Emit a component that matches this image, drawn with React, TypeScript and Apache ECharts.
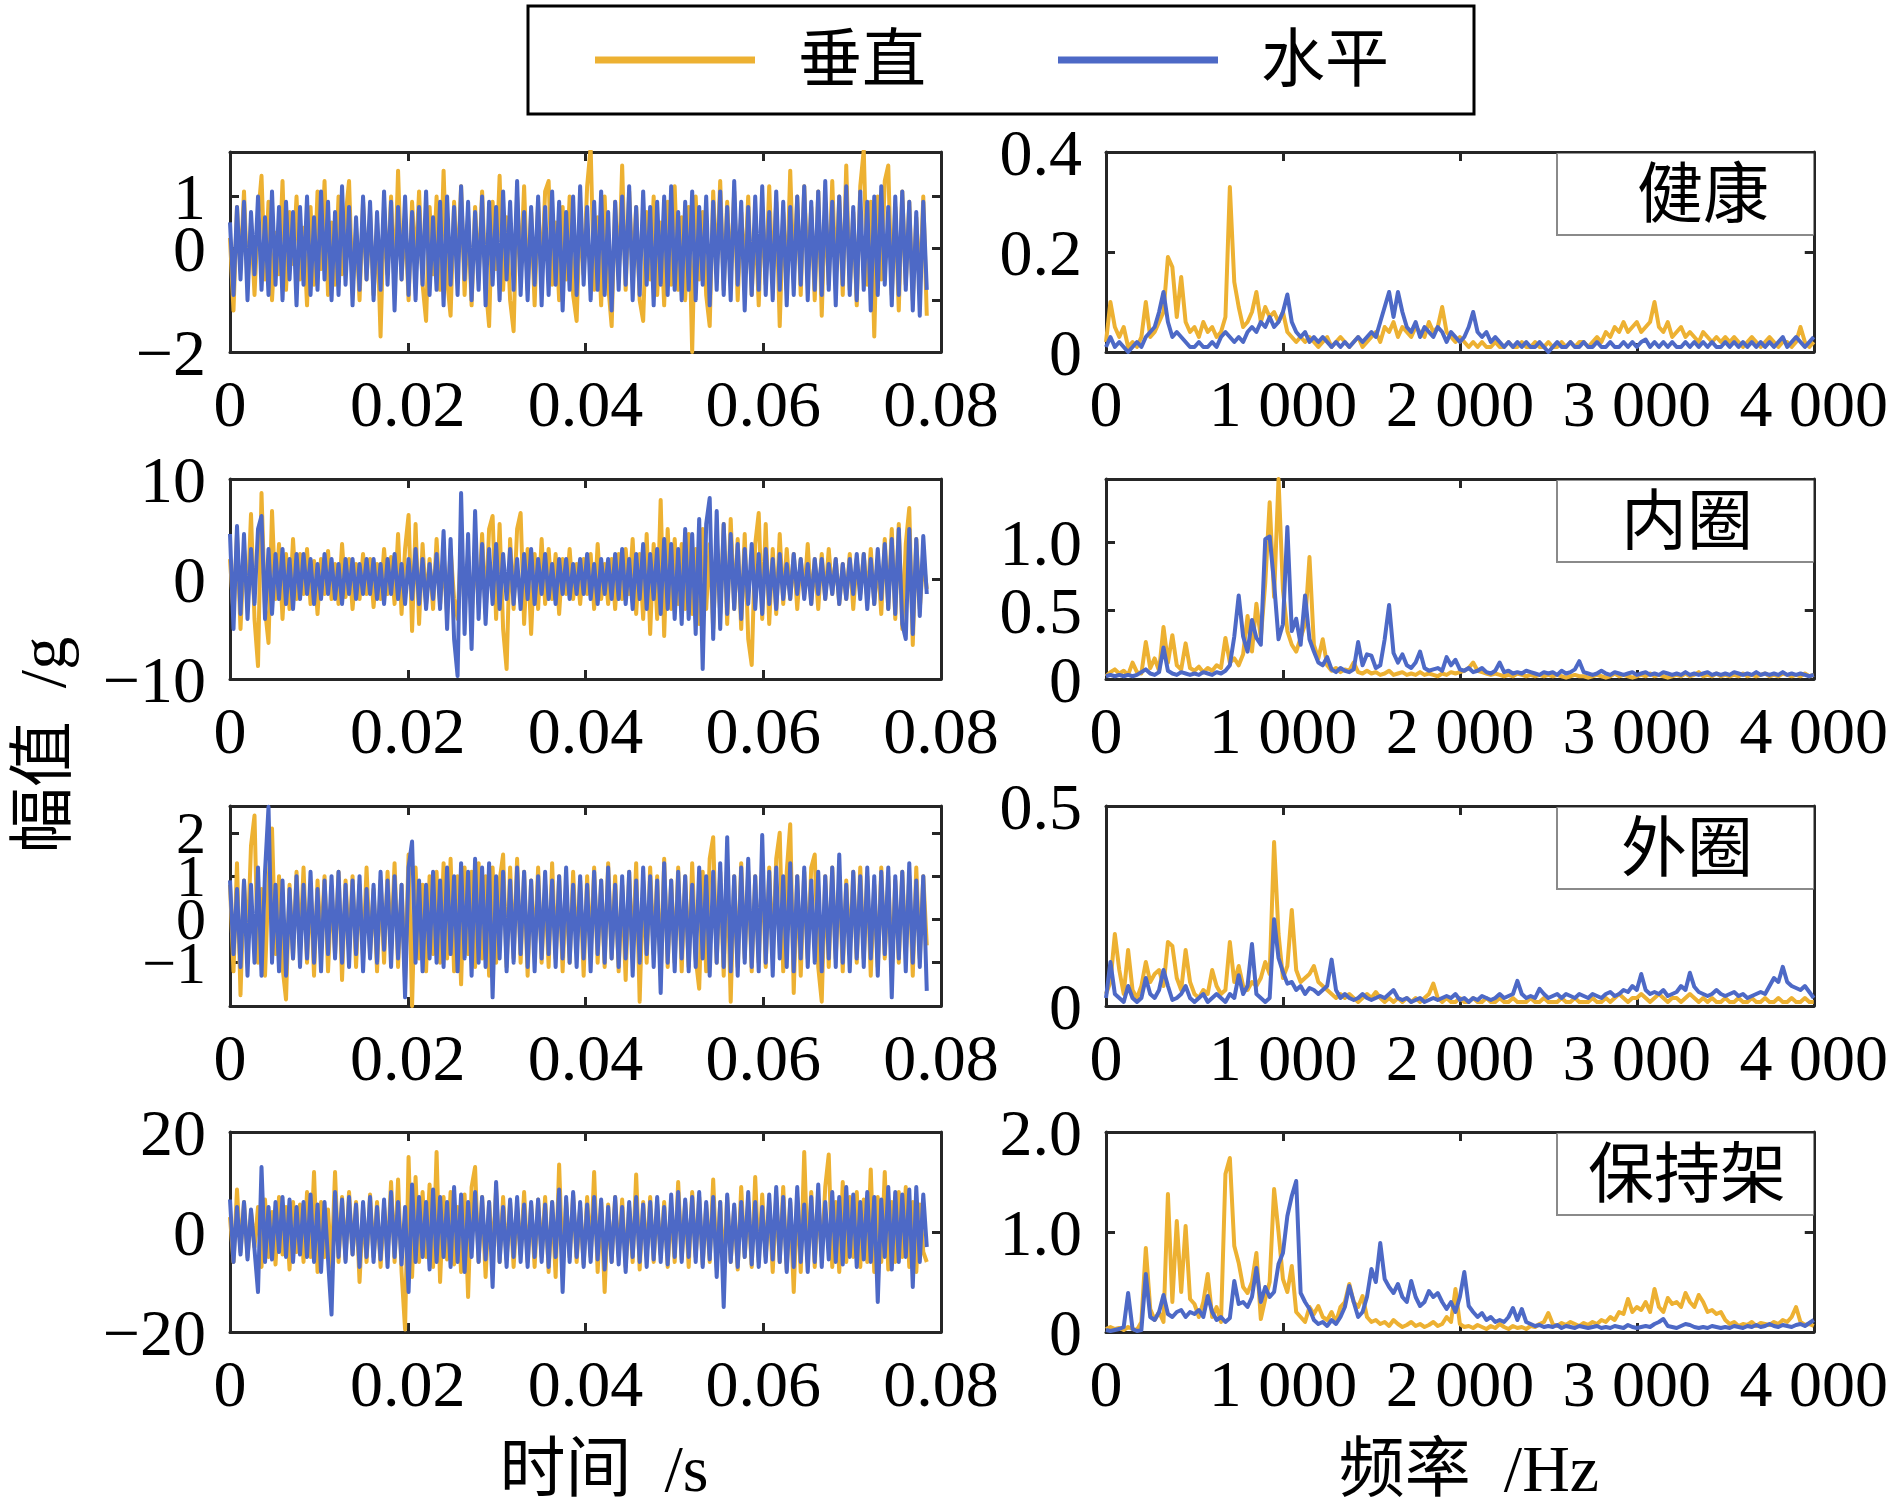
import React, { useEffect, useRef } from 'react';
import * as echarts from 'echarts';

// ---------------- data ----------------
// time-domain signals, 200 samples from 0 to 0.0784 s
const TIME_END = 0.0784;
// frequency spectra, 161 bins from 0 to 4000 Hz (25 Hz step)
const FREQ_STEP = 25;

const seriesNames = ['垂直', '水平'];
const faultLabels = ['健康', '内圈', '外圈', '保持架'];
const timeTickLabels = ['0', '0.02', '0.04', '0.06', '0.08'];
const freqTickLabels = ['0', '1 000', '2 000', '3 000', '4 000'];

// 健康
const healthyTimeV = [
  0.2, -1.2, 0.8, -0.4, 1.1, -0.7, 0.5, -0.9, 0.6, 1.4,
  -0.6, 0.9, -1.0, 0.3, -0.5, 1.3, -0.8, 0.7, -0.3, 1.0,
  -0.6, 0.4, -1.1, 0.8, -0.7, 1.1, -0.4, 1.3, -0.9, 0.5,
  -0.7, 1.0, -0.5, 0.6, 1.3, -0.8, 0.4, -1.0, 0.9, -0.6,
  0.7, -0.9, 0.5, -1.7, 0.8, -0.5, 1.0, -0.8, 1.5, -0.6,
  0.6, -1.0, 0.9, -0.4, 1.1, -0.7, -1.4, 0.8, -0.5, 1.0,
  -0.8, 1.5, -0.6, -1.3, 0.9, -0.5, 1.2, -0.9, 0.6, -1.1,
  0.8, -0.6, 1.1, -0.7, -1.5, 0.9, -0.4, 1.4, -0.8, 0.6,
  -1.0, -1.6, 1.0, -0.5, 1.2, -0.8, 0.7, -1.1, 0.9, -0.6,
  1.1, 1.3, -0.7, 0.5, -1.0, 0.8, -0.6, 1.0, -0.9, -1.4,
  0.7, -0.5, 1.2, 1.95, -0.8, 0.6, -1.1, 1.0, -0.7, -1.5,
  0.9, -0.6, 1.6, -0.8, 1.1, -0.5, 0.8, -1.0, -1.4, 0.7,
  -0.6, 1.0, -0.9, 0.5, -1.1, 0.9, -0.7, 1.2, -0.8, 0.6,
  -1.0, 0.8, -2.0, 1.0, -0.6, 0.7, -0.9, -1.5, 1.1, -0.5,
  1.3, -0.8, 0.9, -0.6, 1.1, -1.0, 0.7, -0.5, 1.0, -0.9,
  0.6, -1.1, 0.8, -0.7, 1.2, -0.6, 0.9, -1.5, 0.7, -0.8,
  1.5, -0.6, 1.0, -0.9, 1.2, -0.5, 0.8, -1.0, 1.1, -1.3,
  0.9, -0.7, 1.3, -0.6, 1.0, -0.9, 1.6, -0.8, 0.7, -1.1,
  1.2, 1.9, -0.7, 0.9, -1.7, 1.0, -0.6, 1.3, 1.6, -0.9,
  0.8, -1.2, 1.1, -0.7, 0.9, -1.0, 0.6, -0.8, 1.0, -1.3,
];
const healthyTimeH = [
  0.5, -0.9, 0.8, -0.6, 0.9, -1.0, 0.7, -0.5, 1.0, -0.8,
  0.6, -0.9, 1.1, -0.7, 0.8, -1.0, 0.9, -0.6, 0.7, -1.1,
  0.8, -0.7, 1.0, -0.9, 0.6, -0.8, 1.1, -0.6, 0.9, -1.0,
  0.7, -0.9, 1.2, -0.7, 0.8, -1.1, 0.6, -0.8, 1.0, -0.6,
  0.9, -1.0, 0.7, -0.8, 1.1, -0.7, 0.9, -1.2, 0.8, -0.6,
  1.0, -0.9, 0.7, -1.0, 0.8, -0.7, 1.1, -0.9, 0.6, -0.8,
  0.9, -1.1, 1.0, -0.7, 0.8, -0.9, 1.2, -0.6, 0.9, -1.0,
  0.7, -0.8, 1.0, -1.1, 0.9, -0.7, 0.8, -1.0, 1.1, -0.6,
  0.9, -0.8, 1.3, -0.9, 0.7, -1.0, 0.8, -0.7, 1.0, -1.1,
  0.8, -0.9, 1.1, -0.7, 0.9, -1.2, 0.7, -0.8, 1.0, -0.9,
  1.2, -0.7, 0.8, -1.0, 0.9, -0.8, 1.1, -0.9, 0.7, -1.2,
  0.9, -0.8, 1.0, -0.7, 1.2, -1.0, 0.8, -0.9, 1.1, -0.7,
  0.8, -1.1, 0.9, -0.7, 1.0, -0.9, 1.2, -0.8, 0.7, -1.0,
  0.9, -0.8, 1.1, -1.0, 0.8, -0.7, 1.0, -1.1, 0.9, -0.8,
  1.1, -0.9, 0.8, -1.0, 1.3, -0.7, 0.9, -1.2, 0.8, -0.9,
  1.0, -0.8, 1.2, -0.9, 0.7, -1.0, 1.1, -0.8, 0.9, -1.1,
  0.8, -0.9, 1.0, -0.7, 1.2, -1.0, 0.9, -0.8, 1.1, -0.9,
  1.3, -0.8, 0.9, -1.1, 1.0, -0.7, 1.2, -0.9, 0.8, -1.0,
  1.1, -0.8, 0.9, -1.2, 1.0, -0.9, 1.2, -0.7, 0.8, -1.1,
  1.0, -0.9, 1.1, -0.8, 0.9, -1.2, 0.7, -1.3, 0.9, -0.8,
];
const healthyFreqV = [
  0.02, 0.10, 0.05, 0.03, 0.05, 0.01, 0.02, 0.01, 0.03, 0.10,
  0.03, 0.04, 0.06, 0.08, 0.19, 0.17, 0.07, 0.15, 0.06, 0.04,
  0.05, 0.03, 0.06, 0.04, 0.05, 0.03, 0.04, 0.07, 0.33, 0.14,
  0.09, 0.05, 0.06, 0.08, 0.12, 0.06, 0.09, 0.07, 0.08, 0.06,
  0.08, 0.04, 0.03, 0.02, 0.03, 0.02, 0.03, 0.02, 0.01, 0.02,
  0.03, 0.01, 0.02, 0.03, 0.02, 0.01, 0.02, 0.03, 0.01, 0.02,
  0.03, 0.04, 0.02, 0.05, 0.04, 0.06, 0.03, 0.05, 0.04, 0.03,
  0.05, 0.04, 0.03, 0.06, 0.04, 0.05, 0.09, 0.04, 0.03, 0.02,
  0.03, 0.02, 0.01, 0.02, 0.01, 0.02, 0.01, 0.01, 0.02, 0.01,
  0.01, 0.02, 0.01, 0.01, 0.02, 0.01, 0.01, 0.02, 0.01, 0.01,
  0.02, 0.01, 0.01, 0.02, 0.01, 0.02, 0.01, 0.02, 0.02, 0.01,
  0.02, 0.03, 0.02, 0.04, 0.03, 0.05, 0.04, 0.06, 0.04, 0.05,
  0.06, 0.04, 0.05, 0.06, 0.10, 0.05, 0.04, 0.06, 0.03, 0.04,
  0.05, 0.03, 0.04, 0.03, 0.02, 0.04, 0.03, 0.02, 0.03, 0.02,
  0.03, 0.02, 0.03, 0.02, 0.01, 0.02, 0.03, 0.02, 0.01, 0.02,
  0.03, 0.02, 0.01, 0.02, 0.02, 0.01, 0.02, 0.05, 0.02, 0.01,
  0.02,
];
const healthyFreqH = [
  0.01, 0.03, 0.01, 0.02, 0.01, 0.00, 0.01, 0.02, 0.01, 0.03,
  0.04, 0.05, 0.08, 0.12, 0.06, 0.03, 0.04, 0.03, 0.02, 0.01,
  0.01, 0.02, 0.01, 0.01, 0.02, 0.01, 0.03, 0.04, 0.03, 0.02,
  0.03, 0.02, 0.04, 0.05, 0.04, 0.06, 0.05, 0.07, 0.05, 0.06,
  0.08, 0.115, 0.06, 0.04, 0.03, 0.04, 0.02, 0.03, 0.02, 0.03,
  0.02, 0.01, 0.02, 0.01, 0.02, 0.01, 0.02, 0.03, 0.02, 0.03,
  0.04, 0.03, 0.06, 0.09, 0.12, 0.07, 0.12, 0.08, 0.05, 0.04,
  0.06, 0.03, 0.05, 0.04, 0.03, 0.05, 0.04, 0.02, 0.04, 0.03,
  0.02, 0.03, 0.05, 0.08, 0.04, 0.03, 0.04, 0.02, 0.03, 0.02,
  0.01, 0.02, 0.01, 0.02, 0.01, 0.02, 0.01, 0.01, 0.02, 0.01,
  0.00, 0.01, 0.02, 0.01, 0.01, 0.02, 0.01, 0.01, 0.02, 0.01,
  0.01, 0.02, 0.01, 0.01, 0.02, 0.01, 0.01, 0.02, 0.01, 0.02,
  0.01, 0.02, 0.025, 0.01, 0.02, 0.01, 0.02, 0.01, 0.02, 0.01,
  0.01, 0.02, 0.01, 0.02, 0.01, 0.02, 0.01, 0.02, 0.01, 0.01,
  0.02, 0.01, 0.02, 0.01, 0.02, 0.01, 0.02, 0.01, 0.02, 0.01,
  0.02, 0.01, 0.02, 0.03, 0.01, 0.02, 0.03, 0.02, 0.01, 0.02,
  0.03,
];

// 内圈
const innerTimeV = [
  2.0, -3.5, 4.5, -5.0, 3.0, -2.5, 6.5, -4.0, -8.7, 8.6,
  -3.0, -6.4, 6.8, -2.0, 3.5, -4.0, 2.5, -3.0, 4.0, -2.0,
  2.5, -1.5, 3.0, -2.5, 1.8, -3.5, 2.0, -1.5, 2.8, -2.0,
  1.5, -2.5, 3.5, -1.8, 2.0, -3.0, 1.5, -2.0, 2.5, -1.5,
  2.0, -2.8, 1.5, -2.0, 3.0, -1.5, 2.2, -2.5, 4.5, -3.5,
  3.0, 6.4, -5.2, 5.5, -4.5, 3.5, -2.5, 2.0, -3.0, 4.0,
  -2.5, 2.0, -3.5, 3.0, -2.0, -4.0, 3.5, -3.0, 2.5, -4.0,
  3.0, -2.5, 4.5, -3.5, 5.0, 6.3, -4.0, 5.5, -5.0, -9.0,
  4.0, -3.0, 5.0, 6.6, -4.5, 3.0, -5.5, 2.5, -3.0, 4.0,
  -2.5, 3.0, -2.0, 2.5, -3.5, 2.0, -1.5, 3.0, -2.0, 1.5,
  -2.5, 2.0, -1.5, 2.5, -3.0, 3.5, -2.0, 1.5, -2.5, 2.0,
  -3.0, 2.5, -2.0, 3.0, -1.5, 4.0, -3.5, 2.5, -4.0, 4.5,
  -5.5, 3.5, -4.0, 7.9, -5.7, 5.0, -3.0, 4.0, -2.5, 3.5,
  -3.0, 4.5, -3.5, 3.0, -4.5, 5.0, -3.0, 3.5, -5.0, 4.0,
  -3.5, 5.5, -4.5, 6.0, -3.0, 4.0, -5.0, 4.5, -6.0, -8.6,
  3.5, 6.6, -4.0, 5.5, -4.5, 3.0, -3.5, 4.5, -2.5, 3.0,
  -2.0, 2.5, -3.0, 2.0, -1.5, 3.5, -2.5, 2.0, -3.0, 2.5,
  -2.0, 3.0, -1.5, 2.0, -2.5, 1.5, -2.0, 2.5, -3.0, 2.0,
  -1.5, 2.5, -2.0, 3.0, -2.5, 2.0, -3.5, 4.0, -3.0, 5.0,
  -4.0, 5.5, -5.0, 3.5, 7.1, -6.6, 4.0, -3.0, 2.0, -1.0,
];
const innerTimeH = [
  4.5, -5.0, 5.3, -3.5, 4.5, -4.0, 3.0, -2.5, 5.0, 6.3,
  -4.0, 3.0, -3.5, 2.5, -2.0, 3.0, -2.5, 2.0, -3.0, 2.5,
  -2.0, 2.5, -1.5, 2.0, -2.5, 1.5, -2.0, 2.5, -1.5, 2.0,
  -2.0, 1.5, -2.5, 2.0, -1.5, 2.0, -2.0, 1.5, -1.5, 2.0,
  -1.5, 2.0, -2.0, 1.5, -2.5, 2.0, -1.5, 2.5, -2.0, 1.5,
  -2.5, 2.0, -2.0, 3.0, -2.5, 2.0, -3.0, 1.5, -2.0, 2.5,
  -3.0, 4.8, -5.0, 4.0, -6.0, -9.7, 8.6, -5.5, 4.5, -7.0,
  6.8, -4.0, 3.5, -4.5, 3.0, -2.5, 3.5, -3.0, 2.5, -2.0,
  3.0, -2.5, 2.0, -3.0, 2.5, -2.0, 3.0, -2.5, 2.0, -1.5,
  2.5, -2.0, 1.5, -2.5, 2.0, -1.5, 2.0, -2.0, 1.5, -1.5,
  2.0, -1.5, 2.5, -2.0, 1.5, -2.5, 2.0, -1.5, 2.0, -2.0,
  2.5, -2.0, 3.0, -2.5, 2.0, -3.0, 2.5, -2.0, 3.5, -3.0,
  2.5, -2.0, 3.0, -3.5, 4.0, -3.0, 3.5, -4.0, 3.0, -4.5,
  5.0, -4.0, 4.5, -5.5, 6.0, -9.0, 5.5, 8.1, -6.0, 6.8,
  -5.0, 5.5, -3.5, 4.5, -3.0, 3.5, -4.0, 3.0, -2.5, 3.5,
  -3.0, 2.5, -3.5, 3.0, -2.5, 2.0, -3.0, 2.5, -2.0, 1.5,
  -2.0, 2.5, -1.5, 2.0, -2.0, 1.5, -2.5, 2.0, -1.5, 2.0,
  -2.0, 1.5, -1.5, 2.0, -2.5, 1.5, -2.0, 2.0, -1.5, 2.5,
  -2.0, 2.5, -3.0, 2.0, -2.5, 3.0, -2.0, 3.5, -3.0, 4.0,
  -3.5, 5.0, -4.5, -6.0, 5.0, -5.5, 4.0, -3.7, 4.3, -1.5,
];
const innerFreqV = [
  0.02, 0.05, 0.07, 0.04, 0.06, 0.03, 0.12, 0.05, 0.04, 0.27,
  0.08, 0.15, 0.06, 0.38, 0.12, 0.32, 0.10, 0.07, 0.26, 0.08,
  0.06, 0.09, 0.05, 0.08, 0.06, 0.10, 0.08, 0.30, 0.12, 0.15,
  0.10, 0.18, 0.46, 0.20, 0.55, 0.30, 0.70, 1.29, 0.60, 1.46,
  0.65, 0.35, 0.25, 0.20, 0.30, 0.40, 0.89, 0.25, 0.15, 0.29,
  0.10, 0.06, 0.08, 0.05, 0.07, 0.06, 0.12, 0.05, 0.04, 0.06,
  0.04, 0.05, 0.03, 0.04, 0.06, 0.03, 0.04, 0.05, 0.03, 0.04,
  0.03, 0.05, 0.03, 0.04, 0.03, 0.02, 0.04, 0.03, 0.05, 0.04,
  0.05, 0.06, 0.08, 0.12, 0.06, 0.05, 0.04, 0.03, 0.04, 0.03,
  0.02, 0.03, 0.02, 0.04, 0.03, 0.02, 0.03, 0.02, 0.03, 0.02,
  0.03, 0.02, 0.03, 0.02, 0.01, 0.02, 0.03, 0.02, 0.02, 0.01,
  0.02, 0.03, 0.02, 0.01, 0.02, 0.04, 0.02, 0.03, 0.02, 0.01,
  0.02, 0.03, 0.02, 0.04, 0.02, 0.03, 0.02, 0.01, 0.02, 0.03,
  0.02, 0.04, 0.02, 0.03, 0.05, 0.02, 0.03, 0.02, 0.04, 0.02,
  0.03, 0.02, 0.03, 0.02, 0.04, 0.02, 0.03, 0.02, 0.03, 0.04,
  0.02, 0.03, 0.02, 0.04, 0.03, 0.02, 0.03, 0.02, 0.04, 0.02,
  0.03,
];
const innerFreqH = [
  0.02, 0.03, 0.02, 0.03, 0.02, 0.03, 0.02, 0.03, 0.05, 0.07,
  0.04, 0.03, 0.05, 0.23, 0.06, 0.04, 0.03, 0.05, 0.04, 0.03,
  0.04, 0.03, 0.05, 0.04, 0.03, 0.05, 0.04, 0.06, 0.10, 0.31,
  0.61, 0.31, 0.20, 0.43, 0.30, 0.25, 1.02, 1.04, 0.70, 0.29,
  0.40, 1.11, 0.35, 0.44, 0.25, 0.61, 0.29, 0.20, 0.12, 0.10,
  0.16, 0.07, 0.05, 0.08, 0.06, 0.05, 0.07, 0.27, 0.10, 0.18,
  0.17, 0.08, 0.10, 0.29, 0.54, 0.19, 0.12, 0.18, 0.10, 0.08,
  0.12, 0.20, 0.08, 0.06, 0.07, 0.08, 0.06, 0.16, 0.10, 0.14,
  0.07, 0.06, 0.08, 0.05, 0.06, 0.08, 0.05, 0.04, 0.06, 0.12,
  0.05, 0.06, 0.04, 0.05, 0.04, 0.06, 0.05, 0.04, 0.03, 0.05,
  0.04, 0.05, 0.03, 0.06, 0.04, 0.05, 0.07, 0.13, 0.05, 0.04,
  0.03, 0.04, 0.06, 0.04, 0.03, 0.05, 0.04, 0.03, 0.04, 0.05,
  0.03, 0.04, 0.05, 0.03, 0.04, 0.03, 0.05, 0.04, 0.03, 0.04,
  0.03, 0.05, 0.03, 0.04, 0.03, 0.04, 0.05, 0.03, 0.04, 0.03,
  0.04, 0.03, 0.05, 0.04, 0.03, 0.04, 0.03, 0.05, 0.03, 0.04,
  0.03, 0.04, 0.03, 0.05, 0.03, 0.04, 0.03, 0.04, 0.03, 0.02,
  0.03,
];

// 外圈
const outerTimeV = [
  0.8, -1.2, 1.3, -1.75, 0.9, -0.6, 1.7, 2.4, -1.0, 0.7,
  -1.3, 0.9, 2.1, -0.8, 1.0, -1.1, -1.85, 0.8, -0.9, 1.1,
  -0.7, 1.2, -1.0, 0.8, -1.3, 0.9, -0.6, 1.0, -1.2, 0.7,
  -0.8, 1.1, -1.4, 0.9, -0.7, 1.0, -1.1, 0.8, -0.9, 1.2,
  -0.8, 0.7, -1.2, 0.9, -1.0, 1.1, -0.7, 1.3, -1.1, 0.8,
  -1.4, 1.5, -2.0, 1.2, -0.9, 0.8, -1.2, 1.0, -0.8, 1.1,
  -1.0, 1.3, -0.9, 1.4, -1.2, 1.0, -1.5, 1.2, -0.8, 1.1,
  -1.1, 1.3, -0.9, 1.0, -1.3, 1.2, -1.0, 0.9, 1.5, -1.1,
  1.2, -0.9, 1.4, -1.0, 1.1, -1.3, 0.9, -0.8, 1.2, -1.0,
  0.8, -1.1, 1.3, -0.9, 1.0, -1.2, 0.8, -1.0, 1.1, -0.7,
  0.9, -1.3, 1.0, -0.8, 1.2, -1.0, 0.9, -1.1, 1.3, -0.9,
  1.0, -1.2, 0.8, -1.4, 1.1, -0.9, 1.3, -1.9, 0.9, -1.0,
  1.2, -0.8, 1.0, -1.3, 1.4, -1.1, 0.9, -1.0, 1.2, -1.2,
  1.0, -1.1, 1.3, -0.9, -1.6, 1.1, -1.2, 1.4, 1.9, -1.0,
  1.1, -1.3, 1.2, -1.9, 1.0, -1.1, 1.3, -0.9, 1.1, -1.2,
  1.0, -1.0, 1.3, -1.1, 1.2, -0.9, 1.4, 2.0, -1.2, 1.1,
  2.2, -1.7, 1.0, -1.3, 1.1, -0.9, 1.2, 1.5, -1.1, -1.9,
  1.0, -1.1, 1.2, -0.9, 1.0, -1.2, 0.9, -0.8, 1.1, -1.0,
  1.2, -0.9, 1.0, -1.3, 0.8, -1.1, 1.2, -0.9, 1.0, -1.2,
  0.9, -1.0, 1.1, -0.8, 1.0, -1.3, 1.2, -0.9, 1.0, -0.6,
];
const outerTimeH = [
  0.9, -0.8, 0.7, -1.1, 0.9, -1.3, 0.8, -1.0, 1.2, -1.3,
  1.1, 2.6, -1.0, 0.8, -1.2, 0.9, -1.3, 0.7, -0.9, 1.0,
  -1.1, 0.8, -0.9, 1.1, -1.0, 0.7, -1.2, 0.9, -0.8, 1.0,
  -0.9, 1.1, -1.0, 0.8, -1.1, 0.9, -0.8, 1.0, -1.2, 0.7,
  -0.9, 0.8, -1.0, 1.1, -0.7, 0.9, -1.1, 1.0, -0.9, 0.8,
  -1.8, 1.2, 1.8, -1.0, 0.9, -1.2, 0.8, -0.9, 1.1, -1.0,
  0.9, -1.1, 1.2, -0.8, 1.0, -1.2, 1.3, -0.9, 1.1, -1.3,
  1.4, -1.0, 1.2, -1.1, 1.3, -1.8, 1.0, -0.9, 1.1, -1.2,
  0.9, -1.0, 1.2, -0.8, 1.1, -1.1, 0.9, -1.2, 1.0, -0.9,
  1.1, -0.8, 0.9, -1.1, 1.0, -0.9, 1.2, -1.0, 0.8, -1.1,
  1.0, -0.9, 0.8, -1.2, 1.1, -0.8, 0.9, -1.0, 1.2, -0.9,
  0.8, -1.1, 1.0, -0.9, 1.1, -1.3, 0.9, -1.0, 1.2, -0.8,
  1.0, -1.1, 0.9, -1.7, 1.3, -1.0, 0.9, -1.2, 1.1, -0.9,
  1.0, -1.2, 0.8, -1.1, 1.2, -0.9, 1.0, -1.3, 1.1, -1.0,
  1.3, -1.1, 1.9, -1.2, 1.0, -1.3, 1.2, -1.0, 1.4, -1.1,
  1.0, -1.2, 1.95, -1.0, 1.1, -1.3, 1.2, -0.9, 1.0, -1.1,
  1.3, -1.2, 1.0, -0.9, 1.2, -1.1, 0.9, -1.0, 1.1, -1.2,
  1.0, -0.9, 1.2, -1.1, 1.5, -1.0, 0.8, -1.2, 1.1, -0.9,
  1.0, -1.1, 1.2, -0.9, 1.0, -1.3, 1.1, -0.8, 1.2, -1.8,
  1.0, -0.9, 1.1, -1.2, 1.3, -1.0, 0.9, -1.1, 1.0, -1.65,
];
const outerFreqV = [
  0.03, 0.06, 0.18, 0.09, 0.03, 0.14, 0.04, 0.02, 0.05, 0.11,
  0.06, 0.08, 0.09, 0.05, 0.16, 0.15, 0.07, 0.04, 0.14, 0.06,
  0.03, 0.02, 0.04, 0.03, 0.09, 0.05, 0.03, 0.04, 0.16, 0.06,
  0.10, 0.05, 0.04, 0.06, 0.05, 0.07, 0.11, 0.08, 0.41, 0.18,
  0.07, 0.10, 0.24, 0.09, 0.06, 0.07, 0.08, 0.10, 0.06, 0.05,
  0.04, 0.03, 0.02, 0.03, 0.02, 0.03, 0.02, 0.01, 0.02, 0.03,
  0.02, 0.035, 0.02, 0.01, 0.02, 0.01, 0.02, 0.01, 0.02, 0.01,
  0.02, 0.01, 0.02, 0.03, 0.056, 0.02, 0.01, 0.02, 0.01, 0.01,
  0.02, 0.01, 0.01, 0.02, 0.01, 0.01, 0.02, 0.01, 0.01, 0.02,
  0.01, 0.01, 0.02, 0.01, 0.01, 0.01, 0.02, 0.01, 0.01, 0.02,
  0.01, 0.01, 0.01, 0.02, 0.01, 0.01, 0.02, 0.01, 0.01, 0.01,
  0.02, 0.01, 0.01, 0.02, 0.01, 0.02, 0.03, 0.02, 0.01, 0.02,
  0.02, 0.03, 0.02, 0.01, 0.02, 0.03, 0.02, 0.01, 0.02, 0.02,
  0.01, 0.02, 0.03, 0.02, 0.01, 0.02, 0.01, 0.02, 0.01, 0.01,
  0.02, 0.01, 0.01, 0.02, 0.01, 0.01, 0.02, 0.01, 0.01, 0.02,
  0.01, 0.01, 0.02, 0.01, 0.01, 0.02, 0.01, 0.01, 0.02, 0.01,
  0.01,
];
const outerFreqH = [
  0.02, 0.11, 0.03, 0.02, 0.01, 0.05, 0.02, 0.01, 0.02, 0.07,
  0.03, 0.02, 0.04, 0.09, 0.05, 0.015, 0.02, 0.03, 0.05, 0.02,
  0.01, 0.02, 0.03, 0.01, 0.02, 0.03, 0.02, 0.01, 0.03, 0.02,
  0.077, 0.03, 0.05, 0.155, 0.03, 0.02, 0.01, 0.02, 0.217, 0.12,
  0.085, 0.056, 0.06, 0.04, 0.05, 0.03, 0.045, 0.04, 0.03, 0.04,
  0.05, 0.116, 0.04, 0.02, 0.03, 0.02, 0.015, 0.02, 0.03, 0.02,
  0.015, 0.02, 0.025, 0.02, 0.03, 0.04, 0.02, 0.015, 0.02, 0.01,
  0.015, 0.02, 0.01, 0.015, 0.02, 0.015, 0.02, 0.025, 0.02, 0.03,
  0.015, 0.02, 0.01, 0.02, 0.015, 0.025, 0.02, 0.015, 0.02, 0.03,
  0.02, 0.025, 0.03, 0.063, 0.03, 0.02, 0.025, 0.02, 0.043, 0.03,
  0.02, 0.025, 0.03, 0.02, 0.03, 0.025, 0.02, 0.03, 0.025, 0.02,
  0.03, 0.025, 0.02, 0.03, 0.035, 0.025, 0.03, 0.04, 0.035, 0.05,
  0.04, 0.08, 0.04, 0.03, 0.035, 0.03, 0.04, 0.025, 0.03, 0.035,
  0.05, 0.04, 0.083, 0.048, 0.035, 0.03, 0.025, 0.03, 0.04, 0.03,
  0.025, 0.03, 0.035, 0.025, 0.03, 0.02, 0.025, 0.03, 0.035, 0.03,
  0.05, 0.07, 0.06, 0.098, 0.06, 0.05, 0.045, 0.04, 0.05, 0.035,
  0.02,
];

// 保持架
const cageTimeV = [
  3.0, -6.0, 8.5, -4.0, 6.0, -5.0, 4.0, -3.0, 5.0, -7.0,
  6.5, -5.0, 4.0, -6.5, 7.0, -4.5, 5.0, -7.5, 6.0, -4.0,
  5.5, -6.0, 8.0, -5.0, 12.0, -8.0, 6.0, -5.0, 4.5, -7.0,
  12.0, -6.0, 7.0, -5.5, 8.0, -4.5, 6.0, -10.0, 5.0, -6.0,
  7.5, -5.0, 6.0, -7.0, 5.0, -4.5, 10.0, -6.0, 10.5, -8.0,
  -19.5, 15.0, -9.0, 11.0, -6.0, 8.0, -5.0, 9.5, -7.0, 16.0,
  -10.0, 7.0, -5.5, 8.0, -6.5, 5.0, -8.0, 7.5, -13.0, 9.0,
  13.0, -6.0, 7.0, -9.0, 6.0, -5.0, 8.5, -6.0, 7.0, -5.5,
  6.0, -7.0, 5.0, -4.5, 8.0, -6.0, 5.5, -7.0, 6.5, -5.0,
  7.0, -8.0, 6.0, -9.0, 13.5, -7.0, 6.0, -5.0, 7.5, -6.0,
  5.0, -6.5, 7.0, -5.0, 12.0, -8.0, 6.0, -12.0, 5.5, -6.0,
  7.0, -5.0, 6.5, -7.0, 5.0, -6.0, 11.5, -7.5, 6.0, -5.0,
  7.0, -6.0, 5.5, -4.5, 6.0, -7.0, 5.0, -6.0, 10.0, -5.5,
  6.0, -7.0, 8.0, -5.0, 7.0, -6.5, 5.5, -6.0, 10.5, -7.0,
  6.0, -8.0, 7.0, -6.0, 5.0, -7.5, 9.0, -5.0, 6.0, -7.0,
  11.0, -6.0, 7.5, -5.0, 6.0, -8.0, 7.0, -6.0, 9.0, -7.5,
  6.0, -12.0, 7.0, -8.0, 16.0, -6.0, 8.0, -7.0, 6.5, -5.0,
  9.0, 15.5, -7.0, 6.0, -8.0, 10.0, -6.0, 7.0, -5.0, 8.0,
  -7.0, 6.5, -6.0, 12.5, -8.0, 7.0, -6.0, 12.0, -7.5, 6.0,
  -6.0, 8.0, -5.0, 9.0, -7.0, 6.0, -8.0, 5.5, -4.0, -6.0,
];
const cageTimeH = [
  6.5, -6.0, 5.0, -4.5, 6.0, -5.5, 4.5, -3.5, -12.0, 13.0,
  -6.0, 5.0, -5.5, 6.0, -4.0, 7.0, -5.0, 6.5, -6.0, 5.0,
  -4.5, 6.0, -5.0, 7.5, -6.0, 5.5, -8.0, 6.0, -5.5, -16.5,
  8.0, -5.0, 6.5, -6.0, 7.0, -4.5, 5.5, -7.0, 6.0, -5.0,
  7.0, -6.0, 5.0, -5.5, 6.5, -7.0, 8.0, -5.0, 6.0, -6.5,
  5.0, -12.0, 9.5, -6.0, 7.0, -5.0, 6.0, -7.5, 8.5, -6.0,
  7.0, -5.0, 6.0, -7.0, 9.0, -6.0, 7.5, -8.0, 6.0, -5.0,
  8.0, -6.0, 7.0, -5.5, 6.0, -11.0, 10.0, -6.0, 5.0, -7.0,
  6.5, -5.0, 7.0, -6.0, 5.5, -7.0, 6.0, -5.0, 6.5, -6.0,
  5.5, -7.0, 6.0, -5.0, 8.5, -12.0, 7.0, -6.0, 8.0, -5.0,
  6.0, -7.0, 5.5, -6.0, 7.0, -5.5, 6.5, -7.5, 5.0, -6.0,
  7.0, -6.5, 5.0, -8.0, 6.0, -5.0, 7.0, -6.0, 5.5, -7.0,
  6.0, -5.5, 7.0, -6.0, 5.0, -6.5, 7.5, -5.0, 8.0, -6.0,
  6.5, -5.0, 7.0, -6.0, 8.0, -7.0, 6.0, -5.5, 7.0, -9.0,
  6.0, -15.0, 7.5, -6.0, 5.5, -7.0, 6.0, -5.0, 8.0, -6.5,
  6.0, -7.0, 5.0, -6.0, 7.5, -5.5, 9.0, -6.0, 7.0, -8.0,
  6.5, -7.0, 9.0, -6.0, 5.5, -8.0, 7.0, -6.0, 9.5, -7.0,
  6.0, -5.5, 8.0, -6.0, 7.0, -6.5, 9.0, -5.0, 7.5, -7.0,
  6.0, -5.5, 8.0, -6.0, 7.0, -14.0, 6.5, -5.0, 9.0, -7.5,
  8.0, -6.0, 7.5, -5.0, 8.5, -11.0, 9.0, -6.0, 7.5, -3.0,
];
const cageFreqV = [
  0.03, 0.05, 0.03, 0.04, 0.02, 0.05, 0.03, 0.02, 0.10, 0.84,
  0.23, 0.12, 0.20, 0.10, 1.38, 0.30, 1.11, 0.40, 1.06, 0.33,
  0.28, 0.15, 0.30, 0.58, 0.15, 0.25, 0.10, 1.58, 1.74, 0.86,
  0.69, 0.45, 0.39, 0.50, 0.79, 0.13, 0.33, 0.50, 1.43, 1.00,
  0.53, 0.40, 0.66, 0.20, 0.15, 0.10, 0.25, 0.18, 0.26, 0.15,
  0.12, 0.20, 0.10, 0.25, 0.30, 0.48, 0.30, 0.25, 0.36, 0.15,
  0.10, 0.12, 0.08, 0.10, 0.06, 0.12, 0.08, 0.05, 0.07, 0.10,
  0.06, 0.08, 0.05, 0.07, 0.10, 0.06, 0.08, 0.15, 0.10, 0.43,
  0.08, 0.05, 0.06, 0.04, 0.07, 0.05, 0.03, 0.06, 0.04, 0.08,
  0.05, 0.03, 0.06, 0.04, 0.05, 0.03, 0.06, 0.05, 0.08, 0.10,
  0.19, 0.08, 0.06, 0.09, 0.07, 0.10, 0.08, 0.06, 0.09, 0.07,
  0.10, 0.08, 0.12, 0.10, 0.15, 0.12, 0.20, 0.18, 0.33, 0.20,
  0.25, 0.22, 0.30, 0.20, 0.43, 0.25, 0.20, 0.34, 0.28, 0.30,
  0.25, 0.39, 0.30, 0.25, 0.37, 0.30, 0.20, 0.22, 0.18, 0.20,
  0.12, 0.08, 0.10, 0.06, 0.08, 0.07, 0.10, 0.06, 0.09, 0.08,
  0.07, 0.10, 0.08, 0.12, 0.10, 0.15, 0.25, 0.10, 0.07, 0.08,
  0.06,
];
const cageFreqH = [
  0.02, 0.01, 0.02, 0.03, 0.05, 0.39, 0.03, 0.01, 0.02, 0.58,
  0.15, 0.12, 0.20, 0.37, 0.18, 0.15, 0.20, 0.22, 0.15, 0.20,
  0.18, 0.22, 0.15, 0.36, 0.20, 0.12, 0.15, 0.10, 0.14, 0.51,
  0.28, 0.30, 0.25, 0.35, 0.64, 0.30, 0.45, 0.35, 0.40, 0.68,
  0.79, 1.16, 1.36, 1.51, 0.39, 0.30, 0.23, 0.12, 0.08, 0.10,
  0.06, 0.12, 0.08, 0.15, 0.25, 0.46, 0.30, 0.15, 0.20, 0.35,
  0.63, 0.50, 0.89, 0.53, 0.45, 0.39, 0.48, 0.35, 0.30, 0.51,
  0.35, 0.26, 0.30, 0.41, 0.35, 0.39, 0.30, 0.23, 0.30, 0.20,
  0.35, 0.60, 0.26, 0.20, 0.15, 0.19, 0.12, 0.15, 0.10, 0.12,
  0.10, 0.15, 0.24, 0.12, 0.23, 0.10, 0.08, 0.06, 0.07, 0.05,
  0.06, 0.05, 0.07, 0.04, 0.06, 0.05, 0.04, 0.06, 0.05, 0.04,
  0.05, 0.06, 0.04, 0.05, 0.04, 0.06, 0.05, 0.04, 0.07, 0.05,
  0.04, 0.05, 0.06, 0.05, 0.08, 0.10, 0.13, 0.06, 0.05, 0.04,
  0.06, 0.08, 0.07, 0.05, 0.04, 0.05, 0.04, 0.06, 0.05, 0.04,
  0.05, 0.04, 0.06, 0.05, 0.04, 0.06, 0.05, 0.07, 0.05, 0.06,
  0.08, 0.06, 0.05, 0.07, 0.06, 0.05, 0.07, 0.08, 0.06, 0.09,
  0.12,
];

const timeData = [
  [healthyTimeV, healthyTimeH],
  [innerTimeV, innerTimeH],
  [outerTimeV, outerTimeH],
  [cageTimeV, cageTimeH],
];
const freqData = [
  [healthyFreqV, healthyFreqH],
  [innerFreqV, innerFreqH],
  [outerFreqV, outerFreqH],
  [cageFreqV, cageFreqH],
];

// axis ranges (left: time amplitude, right: spectrum amplitude)
const timeYMin = [-2, -10, -2, -20];
const timeYMax = [1.86, 10, 2.62, 20];
const timeYStep = [1, 10, 1, 20];
const timeYLabels = [[-2, -1, 0, 1], [-10, 0, 10], [-1, 0, 1, 2], [-20, 0, 20]];
const freqYMax = [0.4, 1.46, 0.5, 2];
const freqYStep = [0.2, 0.5, 0.5, 1];
const freqYLabels = [[0, 0.2, 0.4], [0, 0.5, 1], [0, 0.5], [0, 1, 2]];

// ---------------- styling ----------------
const ORANGE = '#EDB132';
const BLUE = '#4D69C6';
const AXIS_COLOR = '#262626';
const NUM_FONT = "'Liberation Serif', 'DejaVu Serif', serif";
const CJK_FONT = "'Liberation Serif', 'Noto Sans CJK SC', sans-serif";
const LEFT_X = 230;
const LEFT_W = 711;
const RIGHT_X = 1106;
const RIGHT_W = 709;
const ROW_TOPS = [152, 479, 806, 1132];
const ROW_H = 200;
const TICK_FONT = 66;
const LINE_W = 4;

function fmtValue(v: number, digits: number): string {
  if (Math.abs(v) < 1e-9) return '0';
  return v.toFixed(digits).replace('-', '\u2212');
}

function makeAxis(gridIndex: number, position: string, min: number, max: number, interval: number,
  showLabel: boolean, isX: boolean, formatter: (v: number) => string, fontSize: number = TICK_FONT) {
  const label: any = {
    show: showLabel,
    margin: isX ? 18 : 24,
    fontFamily: NUM_FONT,
    fontSize,
    color: '#000',
    formatter,
    showMinLabel: true,
    showMaxLabel: true,
  };
  if (!isX) label.lineHeight = 40;
  return {
    type: 'value',
    gridIndex,
    position,
    min,
    max,
    interval,
    axisLine: { show: true, onZero: false, lineStyle: { color: AXIS_COLOR, width: 3 } },
    axisTick: { show: true, inside: true, length: 9, lineStyle: { color: AXIS_COLOR, width: 3 } },
    axisLabel: label,
    splitLine: { show: false },
    minorTick: { show: false },
  };
}

function buildOption() {
  const grid: any[] = [];
  const xAxis: any[] = [];
  const yAxis: any[] = [];
  const series: any[] = [];
  const graphic: any[] = [];

  const timeFmt = (v: number) => {
    const idx = Math.round(v / 0.02);
    return Math.abs(v - idx * 0.02) < 1e-9 && idx >= 0 && idx < timeTickLabels.length ? timeTickLabels[idx] : '';
  };
  const freqFmt = (v: number) => {
    const idx = Math.round(v / 1000);
    return Math.abs(v - idx * 1000) < 1e-6 && idx >= 0 && idx < freqTickLabels.length ? freqTickLabels[idx] : '';
  };

  for (let r = 0; r < 4; r++) {
    for (let c = 0; c < 2; c++) {
      const g = r * 2 + c;
      grid.push({
        left: c === 0 ? LEFT_X : RIGHT_X,
        top: ROW_TOPS[r],
        width: c === 0 ? LEFT_W : RIGHT_W,
        height: ROW_H,
        containLabel: false,
      });
      if (c === 0) {
        xAxis.push(makeAxis(g, 'bottom', 0, 0.08, 0.02, true, true, timeFmt));
        xAxis.push(makeAxis(g, 'top', 0, 0.08, 0.02, false, true, timeFmt));
        const shown = timeYLabels[r];
        const yFmt = (v: number) => (shown.some((s) => Math.abs(s - v) < 1e-9) ? fmtValue(v, 0) : '');
        // the outer-ring panel has tightly packed ticks: slightly smaller labels so they do not collide
        const fs = r === 2 ? 60 : TICK_FONT;
        yAxis.push(makeAxis(g, 'left', timeYMin[r], timeYMax[r], timeYStep[r], true, false, yFmt, fs));
        yAxis.push(makeAxis(g, 'right', timeYMin[r], timeYMax[r], timeYStep[r], false, false, yFmt, fs));
        timeData[r].forEach((arr, k) => {
          const n = arr.length;
          series.push({
            name: seriesNames[k],
            type: 'line',
            xAxisIndex: 2 * g,
            yAxisIndex: 2 * g,
            data: arr.map((y, i) => [(i * TIME_END) / (n - 1), y]),
            symbol: 'none',
            showSymbol: false,
            clip: true,
            silent: true,
            z: 2 + k,
            lineStyle: { color: k === 0 ? ORANGE : BLUE, width: LINE_W, join: 'round' },
            itemStyle: { color: k === 0 ? ORANGE : BLUE },
          });
        });
      } else {
        xAxis.push(makeAxis(g, 'bottom', 0, 4000, 1000, true, true, freqFmt));
        xAxis.push(makeAxis(g, 'top', 0, 4000, 1000, false, true, freqFmt));
        const shown = freqYLabels[r];
        const yFmt = (v: number) => (shown.some((s) => Math.abs(s - v) < 1e-9) ? fmtValue(v, 1) : '');
        yAxis.push(makeAxis(g, 'left', 0, freqYMax[r], freqYStep[r], true, false, yFmt));
        yAxis.push(makeAxis(g, 'right', 0, freqYMax[r], freqYStep[r], false, false, yFmt));
        freqData[r].forEach((arr, k) => {
          series.push({
            name: seriesNames[k],
            type: 'line',
            xAxisIndex: 2 * g,
            yAxisIndex: 2 * g,
            data: arr.map((y, i) => [i * FREQ_STEP, y]),
            symbol: 'none',
            showSymbol: false,
            clip: true,
            silent: true,
            z: 2 + k,
            lineStyle: { color: k === 0 ? ORANGE : BLUE, width: LINE_W, join: 'round' },
            itemStyle: { color: k === 0 ? ORANGE : BLUE },
          });
        });

        // label box in the upper-right corner
        const top = ROW_TOPS[r];
        const bx = 1557;
        const bh = 83;
        const right = RIGHT_X + RIGHT_W;
        graphic.push({
          type: 'rect',
          z: 100,
          shape: { x: bx, y: top + 1.5, width: right - 1.5 - bx, height: bh - 1.5 },
          style: { fill: '#fff' },
        });
        graphic.push({
          type: 'polyline',
          z: 101,
          shape: { points: [[bx, top + 1.5], [bx, top + bh], [right - 1.5, top + bh]] },
          style: { stroke: '#8a8a8a', lineWidth: 2, fill: null },
        });
        graphic.push({
          type: 'text',
          z: 102,
          x: r === 0 ? 1703 : 1687,
          y: top + bh / 2 + 1,
          style: {
            text: faultLabels[r],
            fontFamily: CJK_FONT,
            fontSize: 66,
            fill: '#000',
            align: 'center',
            verticalAlign: 'middle',
          },
        });
      }
    }
  }

  graphic.push({
    type: 'text',
    x: 604,
    y: 1468,
    style: { text: '时间\u2002/s', fontFamily: CJK_FONT, fontSize: 66, fill: '#000', align: 'center', verticalAlign: 'middle' },
  });
  graphic.push({
    type: 'text',
    x: 1469,
    y: 1468,
    style: { text: '频率\u2002/Hz', fontFamily: CJK_FONT, fontSize: 66, fill: '#000', align: 'center', verticalAlign: 'middle' },
  });
  graphic.push({
    type: 'text',
    x: 42,
    y: 745,
    rotation: Math.PI / 2,
    style: { text: '幅值\u2002/g', fontFamily: CJK_FONT, fontSize: 66, fill: '#000', align: 'center', verticalAlign: 'middle' },
  });

  return {
    animation: false,
    backgroundColor: '#fff',
    legend: {
      left: 528,
      top: 6,
      orient: 'horizontal',
      data: seriesNames,
      icon: 'rect',
      itemWidth: 160,
      itemHeight: 7,
      itemGap: 132,
      padding: [22, 85, 22, 67],
      borderColor: '#000',
      borderWidth: 3,
      backgroundColor: '#fff',
      selectedMode: false,
      textStyle: { fontFamily: CJK_FONT, fontSize: 64, color: '#000', padding: [0, 0, 0, 38], lineHeight: 62 },
    },
    grid,
    xAxis,
    yAxis,
    series,
    graphic,
  };
}

export default function App() {
  const ref = useRef<HTMLDivElement>(null);
  useEffect(() => {
    if (!ref.current) return;
    const chart = echarts.init(ref.current, null, { renderer: 'svg' });
    chart.setOption(buildOption() as any);
    return () => chart.dispose();
  }, []);
  return (
    <div
      ref={ref}
      style={{ position: 'absolute', left: 0, top: 0, width: 1891, height: 1512, background: '#fff' }}
    />
  );
}
